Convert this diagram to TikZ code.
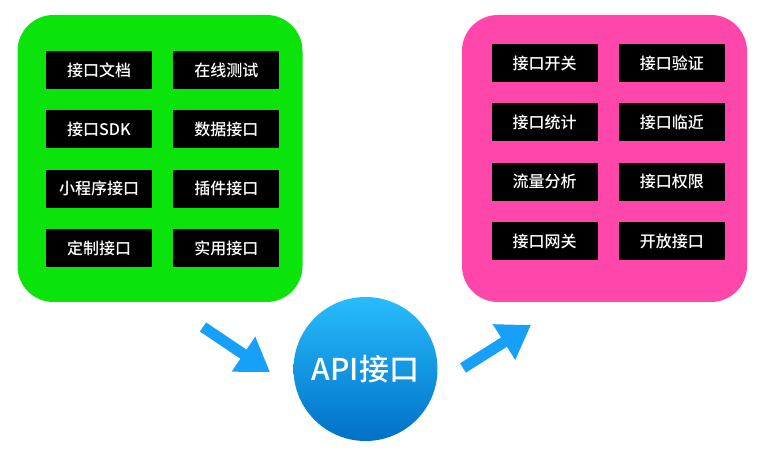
\documentclass[tikz,border=0pt]{standalone}
\usepackage{fontspec}
\setmainfont{Noto Sans CJK SC}[BoldFont={Noto Sans CJK SC Medium}]
\usepackage{xcolor}
\usepackage{tikz}
\usetikzlibrary{arrows.meta,positioning}

\definecolor{panelgreen}{RGB}{10,228,10}
\definecolor{panelpink}{RGB}{255,70,170}
\definecolor{flowblue}{RGB}{22,160,250}
\definecolor{apitop}{RGB}{40,188,252}
\definecolor{apibot}{RGB}{0,112,200}

\begin{document}
\begin{tikzpicture}[
  x=1pt, y=-1pt,
  font=\fontsize{16}{19}\selectfont\bfseries,
  panel/.style={rounded corners=36pt, minimum width=285pt, minimum height=287pt, inner sep=0pt},
  cell/.style={fill=black, text=white, minimum width=106pt, minimum height=38pt, inner sep=0pt},
  flow/.style={draw=flowblue, line width=11pt, -{Triangle[length=32pt,width=40pt]}},
  api/.style={circle, minimum size=144pt, inner sep=0pt, top color=apitop, bottom color=apibot, text=white, font=\fontsize{30}{35}\selectfont\bfseries}
]
\useasboundingbox (0,0) rectangle (763,454);

% Left panel
\node[panel, fill=panelgreen] (gp) at (160,158.5) {};
\node[cell] (g1) at (99,70) {接口文档};
\node[cell, right=21pt of g1] (g2) {在线测试};
\node[cell, below=21pt of g1] (g3) {接口SDK};
\node[cell, right=21pt of g3] (g4) {数据接口};
\node[cell, below=21pt of g3] (g5) {小程序接口};
\node[cell, right=21pt of g5] (g6) {插件接口};
\node[cell, below=21pt of g5] (g7) {定制接口};
\node[cell, right=21pt of g7] (g8) {实用接口};

% Right panel
\node[panel, fill=panelpink] (pp) at (604.5,158.5) {};
\node[cell] (p1) at (544.5,63) {接口开关};
\node[cell, right=21pt of p1] (p2) {接口验证};
\node[cell, below=21pt of p1] (p3) {接口统计};
\node[cell, right=21pt of p3] (p4) {接口临近};
\node[cell, below=21pt of p3] (p5) {流量分析};
\node[cell, right=21pt of p5] (p6) {接口权限};
\node[cell, below=21pt of p5] (p7) {接口网关};
\node[cell, right=21pt of p7] (p8) {开放接口};

% API hub
\node[api] (hub) at (365.5,369) {API接口};
\coordinate (inA) at (203,327);
\coordinate (inB) at (270,372);
\coordinate (outA) at (463,368);
\coordinate (outB) at (531,325);
\draw[flow] (inA) -- (inB);
\draw[flow] (outA) -- (outB);
\end{tikzpicture}
\end{document}
